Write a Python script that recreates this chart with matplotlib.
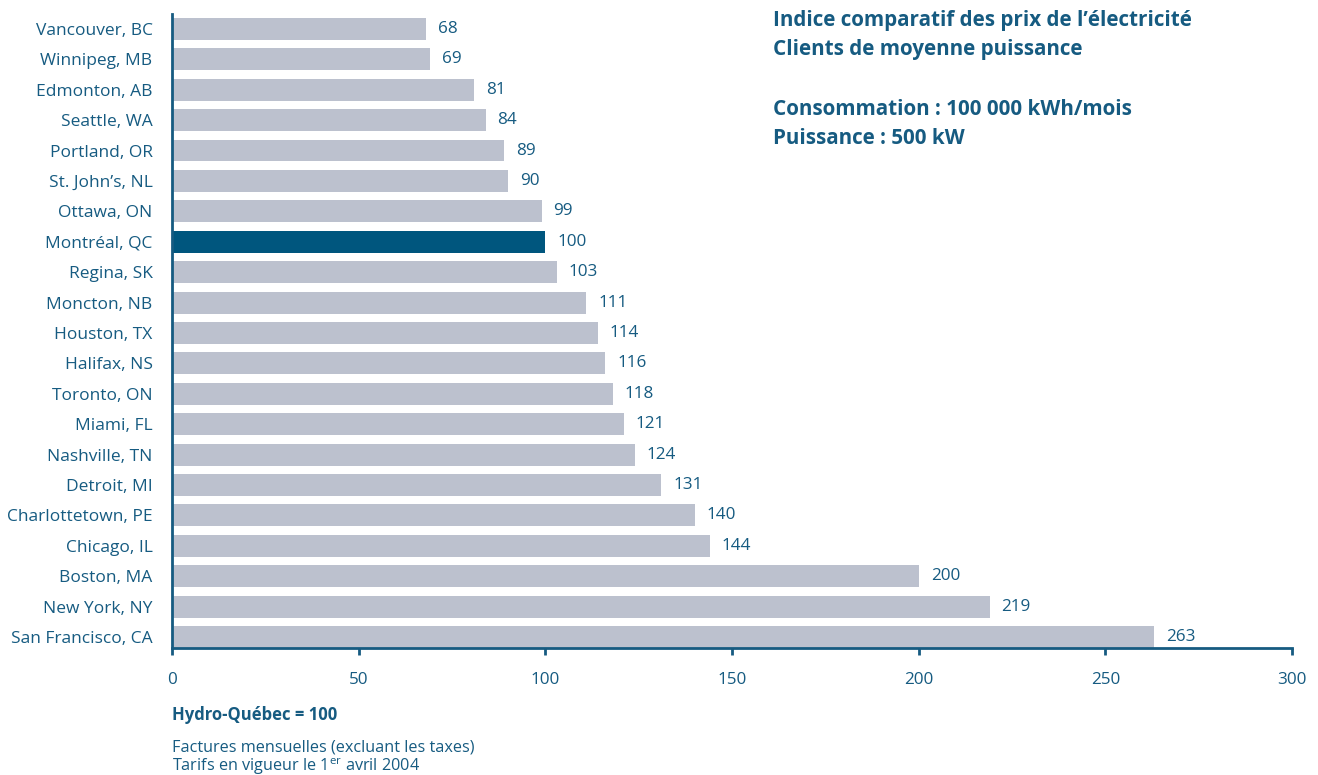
import matplotlib.pyplot as plt
import numpy as np

plt.rcParams['font.family'] = ['Open Sans', 'DejaVu Sans']

cities = ['Vancouver, BC', 'Winnipeg, MB', 'Edmonton, AB', 'Seattle, WA', 'Portland, OR',
          'St. John\u2019s, NL', 'Ottawa, ON', 'Montréal, QC', 'Regina, SK', 'Moncton, NB',
          'Houston, TX', 'Halifax, NS', 'Toronto, ON', 'Miami, FL', 'Nashville, TN',
          'Detroit, MI', 'Charlottetown, PE', 'Chicago, IL', 'Boston, MA', 'New York, NY',
          'San Francisco, CA']
index_values = [68, 69, 81, 84, 89, 90, 99, 100, 103, 111, 114, 116, 118, 121, 124,
                131, 140, 144, 200, 219, 263]
highlight = 'Montréal, QC'
x_ticks = [0, 50, 100, 150, 200, 250, 300]

blue = '#165b81'
dark = '#00567e'
grey = '#bcc1ce'

fig = plt.figure(figsize=(13.18, 7.75), dpi=100)
ax = fig.add_axes([0.1305, 0.1639, 0.8498, 0.818])

y = np.arange(len(cities))
colors = [dark if c == highlight else grey for c in cities]
bars = ax.barh(y, index_values, height=0.72, color=colors)
for yi, v in zip(y, index_values):
    ax.text(v + 3.2, yi, str(v), va='center', ha='left', fontsize=12.3, color=blue)

ax.set_ylim(len(cities) - 1 + 0.36, -0.49)
ax.set_xlim(0, 300)
ax.set_xticks(x_ticks)
ax.set_yticks(y)
ax.set_yticklabels(cities)

for s in ['top', 'right']:
    ax.spines[s].set_visible(False)
for s in ['left', 'bottom']:
    ax.spines[s].set_color(blue)
    ax.spines[s].set_linewidth(2)
ax.tick_params(axis='y', length=0, pad=14, labelsize=12.5, labelcolor=blue)
ax.tick_params(axis='x', direction='out', length=5, width=2, color=blue,
               pad=12, labelsize=12.3, labelcolor=blue)

# title block
title_lines = ['Indice comparatif des prix de l\u2019électricité', 'Clients de moyenne puissance',
               'Consommation : 100 000 kWh/mois', 'Puissance : 500 kW']
for line, yy in zip(title_lines, [0.973, 0.9355, 0.859, 0.8215]):
    fig.text(0.5865, yy, line, fontsize=14.9, fontweight='bold', color=blue,
             va='center', ha='left')

# notes
fig.text(0.1305, 0.0774, 'Hydro-Québec = 100', fontsize=12, fontweight='bold',
         color=blue, va='center', ha='left')
fig.text(0.1305, 0.036, 'Factures mensuelles (excluant les taxes)', fontsize=11.7,
         color=blue, va='center', ha='left')
fig.text(0.1305, 0.0105, r'Tarifs en vigueur le 1$^{\mathregular{er}}$ avril 2004', fontsize=11.7,
         color=blue, va='center', ha='left')

fig.savefig('out.png', dpi=100)
